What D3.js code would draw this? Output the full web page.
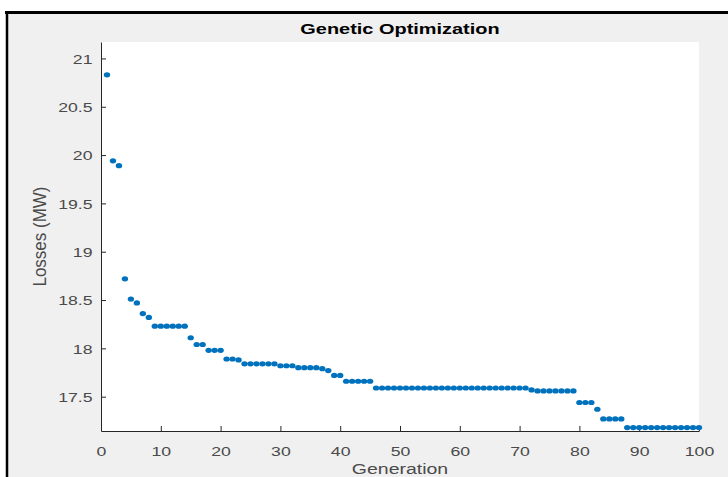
<!DOCTYPE html>
<html>
<head>
<meta charset="utf-8">
<script src="https://cdn.jsdelivr.net/npm/d3@7"></script>
<style>
  body { margin: 0; background: #fff; }
  svg { display: block; }
  text { font-family: "Liberation Sans", Arial, sans-serif; }
</style>
</head>
<body>
<div id="chart"></div>
<script>
// Data
const generations = [1, 2, 3, 4, 5, 6, 7, 8, 9, 10, 11, 12, 13, 14, 15, 16, 17, 18, 19, 20,
    21, 22, 23, 24, 25, 26, 27, 28, 29, 30, 31, 32, 33, 34, 35, 36, 37, 38, 39, 40,
    41, 42, 43, 44, 45, 46, 47, 48, 49, 50, 51, 52, 53, 54, 55, 56, 57, 58, 59, 60,
    61, 62, 63, 64, 65, 66, 67, 68, 69, 70, 71, 72, 73, 74, 75, 76, 77, 78, 79, 80,
    81, 82, 83, 84, 85, 86, 87, 88, 89, 90, 91, 92, 93, 94, 95, 96, 97, 98, 99, 100];

const losses = [20.83, 19.94, 19.89, 18.72, 18.51, 18.47, 18.36, 18.32, 18.23, 18.23,
    18.23, 18.23, 18.23, 18.23, 18.11, 18.04, 18.04, 17.98, 17.98, 17.98,
    17.89, 17.89, 17.88, 17.84, 17.84, 17.84, 17.84, 17.84, 17.84, 17.82,
    17.82, 17.82, 17.80, 17.80, 17.80, 17.80, 17.79, 17.77, 17.72, 17.72,
    17.66, 17.66, 17.66, 17.66, 17.66, 17.59, 17.59, 17.59, 17.59, 17.59,
    17.59, 17.59, 17.59, 17.59, 17.59, 17.59, 17.59, 17.59, 17.59, 17.59,
    17.59, 17.59, 17.59, 17.59, 17.59, 17.59, 17.59, 17.59, 17.59, 17.59,
    17.59, 17.57, 17.56, 17.56, 17.56, 17.56, 17.56, 17.56, 17.56, 17.44,
    17.44, 17.44, 17.37, 17.27, 17.27, 17.27, 17.27, 17.18, 17.18, 17.18,
    17.18, 17.18, 17.18, 17.18, 17.18, 17.18, 17.18, 17.18, 17.18, 17.18];

const xTicks = [0, 10, 20, 30, 40, 50, 60, 70, 80, 90, 100];
const yTicks = [17.5, 18, 18.5, 19, 19.5, 20, 20.5, 21];

const width = 728;
const height = 477;
const plot = { left: 101, right: 699, top: 42, bottom: 431 };
const stretch = 1.36; // the picture is a bit wider than tall

const svg = d3.select("#chart")
    .append("svg")
    .attr("width", width)
    .attr("height", height);

// figure background and the black frame
svg.append("rect")
    .attr("x", 7).attr("y", 12)
    .attr("width", width - 7).attr("height", height - 12)
    .attr("fill", "#f0f0f0");
svg.append("line")
    .attr("x1", 5).attr("x2", width).attr("y1", 12.5).attr("y2", 12.5)
    .attr("stroke", "#000").attr("stroke-width", 3);
svg.append("line")
    .attr("x1", 7).attr("x2", 7).attr("y1", 11).attr("y2", height)
    .attr("stroke", "#000").attr("stroke-width", 2.5);

// axes area
svg.append("rect")
    .attr("x", plot.left).attr("y", plot.top)
    .attr("width", plot.right - plot.left).attr("height", plot.bottom - plot.top)
    .attr("fill", "#fff");

const x = d3.scaleLinear().domain([0, 100]).range([plot.left, plot.right]);
const y = d3.scaleLinear().domain([17.145, 21.17]).range([plot.bottom, plot.top]);

const xAxis = svg.append("g")
    .attr("transform", `translate(0,${plot.bottom})`)
    .call(d3.axisBottom(x).tickValues(xTicks).tickSizeInner(-5).tickSizeOuter(0));

const yAxis = svg.append("g")
    .attr("transform", `translate(${plot.left},0)`)
    .call(d3.axisLeft(y).tickValues(yTicks).tickSizeInner(-5).tickSizeOuter(0)
        .tickFormat(d3.format("")));

[xAxis, yAxis].forEach(function(g) {
    g.select(".domain").attr("stroke", "#262626").attr("stroke-width", 1);
    g.selectAll(".tick line").attr("stroke", "#262626");
    g.selectAll(".tick text")
        .attr("fill", "#4a4a4a")
        .attr("font-size", "13px")
        .attr("transform", `scale(${stretch},1)`);
});

xAxis.selectAll(".tick text")
    .attr("y", 25)
    .attr("dy", null);

yAxis.selectAll(".tick text")
    .attr("x", -8.5 / stretch)
    .attr("dy", "0.36em");

// the points
svg.append("g")
    .selectAll("ellipse")
    .data(losses)
    .enter()
    .append("ellipse")
    .attr("cx", function(d, i) { return x(generations[i]); })
    .attr("cy", function(d) { return y(d); })
    .attr("rx", 3.2)
    .attr("ry", 2.6)
    .attr("fill", "#0072bd");

// title and labels
svg.append("text")
    .attr("transform", `translate(${(plot.left + plot.right) / 2},34) scale(1.33,1)`)
    .attr("text-anchor", "middle")
    .attr("font-size", "15px")
    .attr("font-weight", "bold")
    .attr("fill", "#000")
    .text("Genetic Optimization");

svg.append("text")
    .attr("transform", `translate(${(plot.left + plot.right) / 2},474) scale(1.3,1)`)
    .attr("text-anchor", "middle")
    .attr("font-size", "15px")
    .attr("fill", "#4a4a4a")
    .text("Generation");

svg.append("text")
    .attr("transform", `translate(46,${(plot.top + plot.bottom) / 2}) rotate(-90) scale(1,1.1)`)
    .attr("text-anchor", "middle")
    .attr("font-size", "17px")
    .attr("fill", "#4a4a4a")
    .text("Losses (MW)");
</script>
</body>
</html>
